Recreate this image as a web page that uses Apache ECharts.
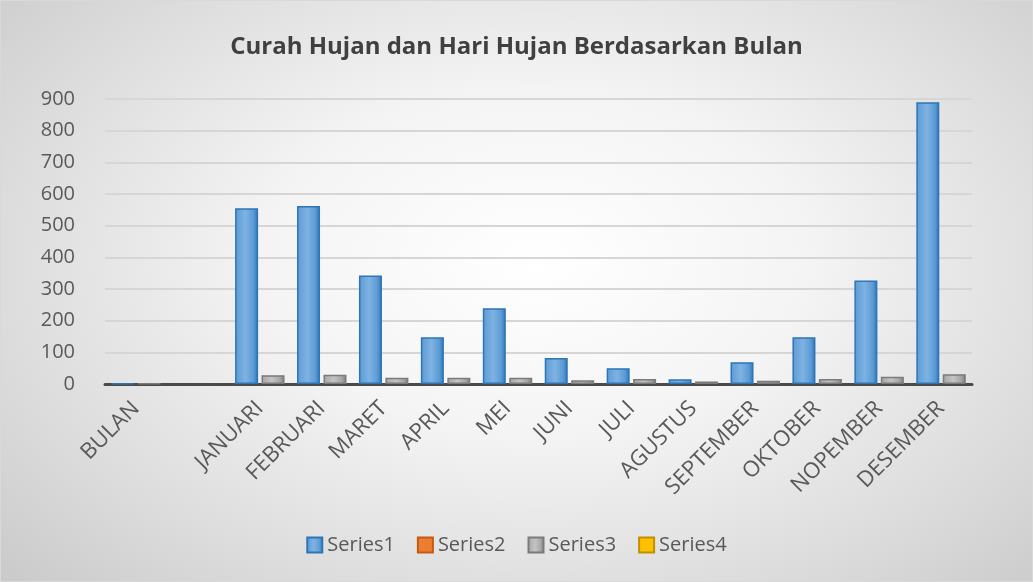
<!DOCTYPE html>
<html>
<head>
<meta charset="utf-8">
<script src="https://cdn.jsdelivr.net/npm/echarts@6/dist/echarts.min.js"></script>
<style>
html, body { margin: 0; padding: 0; }
#chart {
    width: 1033px; height: 582px; box-sizing: border-box;
    border: 1px solid #d9d9d9;
    background: radial-gradient(ellipse 75% 85% at 52% 45%, #ffffff 0%, #f4f4f4 35%, #dcdcdc 70%, #c6c6c6 100%);
}
</style>
</head>
<body>
<div id="chart"></div>
<script>
var titleText = 'Curah Hujan dan Hari Hujan Berdasarkan Bulan';
var months = ['BULAN', '', 'JANUARI', 'FEBRUARI', 'MARET', 'APRIL', 'MEI', 'JUNI', 'JULI',
    'AGUSTUS', 'SEPTEMBER', 'OKTOBER', 'NOPEMBER', 'DESEMBER'];
var series1 = [2, null, 555, 562, 343, 148, 239, 82, 50, 15, 69, 148, 327, 890];
var series2 = [];
var series3 = [1, null, 28, 29, 20, 20, 20, 12, 16, 8, 10, 16, 23, 31];
var series4 = [];
var seriesNames = ['Series1', 'Series2', 'Series3', 'Series4'];

var fontFamily = '"Open Sans", "Noto Sans", sans-serif';

var chart = echarts.init(document.getElementById('chart'));

function barStyle(light, mid, dark) {
    return {
        color: {
            type: 'linear', x: 0, y: 0, x2: 1, y2: 0,
            colorStops: [
                {offset: 0, color: mid},
                {offset: 0.45, color: light},
                {offset: 0.8, color: mid},
                {offset: 1, color: dark}
            ]
        },
        borderColor: dark,
        borderWidth: 1.5
    };
}

var option = {
    backgroundColor: 'transparent',
    animation: false,
    textStyle: {fontFamily: fontFamily},
    title: {
        text: titleText,
        left: 'center',
        top: 29,
        textStyle: {fontSize: 24, fontWeight: 'bold', color: '#404040', fontFamily: fontFamily}
    },
    legend: {
        bottom: 21,
        left: 'center',
        itemWidth: 15,
        itemHeight: 15,
        itemGap: 22,
        icon: 'rect',
        textStyle: {fontSize: 20, color: '#595959'},
        data: seriesNames
    },
    grid: {left: 104, right: 60, top: 98, bottom: 197, containLabel: false},
    xAxis: {
        type: 'category',
        data: months,
        axisTick: {show: false},
        axisLine: {lineStyle: {color: '#4a4a4a', width: 3}},
        axisLabel: {
            interval: 0,
            rotate: 45,
            margin: 21,
            fontSize: 22,
            color: '#595959'
        }
    },
    yAxis: {
        type: 'value',
        min: 0,
        max: 900,
        interval: 100,
        axisLine: {show: false},
        axisTick: {show: false},
        axisLabel: {fontSize: 20, color: '#595959', margin: 30},
        splitLine: {lineStyle: {color: '#d6d6d6', width: 2}}
    },
    series: [
        {
            name: 'Series1', type: 'bar', stack: 'a', data: series1,
            barWidth: 23, barGap: '15%',
            itemStyle: barStyle('#7fb2e2', '#5b9bd5', '#2e75b6')
        },
        {
            name: 'Series2', type: 'bar', stack: 'a', data: series2,
            itemStyle: {color: '#ed7d31', borderColor: '#c55a11', borderWidth: 1.5}
        },
        {
            name: 'Series3', type: 'bar', stack: 'b', data: series3,
            barWidth: 23,
            itemStyle: barStyle('#c4c4c4', '#a5a5a5', '#7b7b7b')
        },
        {
            name: 'Series4', type: 'bar', stack: 'b', data: series4,
            itemStyle: {color: '#ffc000', borderColor: '#bf9000', borderWidth: 1.5}
        }
    ]
};

chart.setOption(option);
</script>
</body>
</html>
